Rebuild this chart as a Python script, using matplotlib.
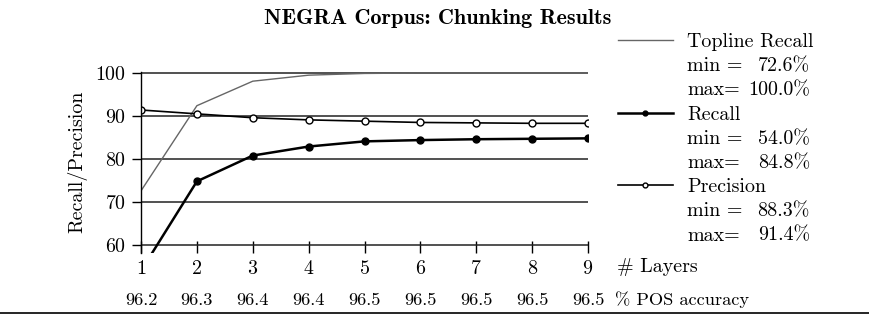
import matplotlib
matplotlib.use("Agg")
import matplotlib.pyplot as plt
from matplotlib.lines import Line2D
import matplotlib.transforms as mtransforms

layers = [1, 2, 3, 4, 5, 6, 7, 8, 9]
pos_accuracy = ['96.2', '96.3', '96.4', '96.4', '96.5', '96.5', '96.5', '96.5', '96.5']
topline_recall = [72.6, 92.4, 98.1, 99.5, 99.9, 100.0, 100.0, 100.0, 100.0]
recall = [54.0, 74.8, 80.8, 82.9, 84.1, 84.4, 84.6, 84.7, 84.8]
precision = [91.4, 90.5, 89.6, 89.1, 88.8, 88.5, 88.4, 88.3, 88.3]
yticks = [60, 70, 80, 90, 100]

plt.rcParams['font.family'] = ['cmr10', 'DejaVu Serif']
plt.rcParams['axes.formatter.use_mathtext'] = True
FS = 14.4

fig = plt.figure(figsize=(8.7, 3.16), dpi=100)
ax = fig.add_axes([0.1621, 0.2003, 0.5138, 0.5727])

l_top, = ax.plot(layers, topline_recall, color='#666666', lw=1.0, label='Topline Recall')
l_rec, = ax.plot(layers, recall, color='black', lw=1.8, marker='o', ms=5, label='Recall')
l_prec, = ax.plot(layers, precision, color='black', lw=1.2, marker='o', ms=5,
                  mfc='white', mec='black', mew=1.0, label='Precision')

ax.set_xlim(1, 9)
ax.set_ylim(58.2, 100.3)
ax.set_yticks(yticks)
ax.set_xticks(layers)
ax.yaxis.grid(True, color='#222222', lw=1.1)
ax.set_axisbelow(True)
for s in ['top', 'right', 'bottom']:
    ax.spines[s].set_visible(False)
ax.spines['left'].set_linewidth(1.0)
ax.tick_params(axis='y', direction='out', length=6.5, width=1.0, pad=4, labelsize=FS)
ax.tick_params(axis='x', direction='in', length=9, width=1.0, pad=5, labelsize=FS)
ax.set_ylabel('Recall/Precision', fontsize=FS)
ax.yaxis.set_label_coords(-0.121, 0.5)

trans = mtransforms.blended_transform_factory(ax.transData, ax.transAxes)
for x, p in zip(layers, pos_accuracy):
    ax.text(x, -0.261, p, transform=trans, ha='center', va='center', fontsize=FS * 0.92)

fig.text(617 / 870, 1 - 267 / 316, '# Layers', ha='left', va='center', fontsize=FS)
fig.text(615 / 870, 1 - 300 / 316, '% POS accuracy', ha='left', va='center', fontsize=FS * 0.92)

fig.text(438 / 870, 1 - 18 / 316, 'NEGRA Corpus: Chunking Results', ha='center', va='center',
         fontsize=16, family=['cmb10', 'DejaVu Serif'])

blank = Line2D([], [], linestyle='none')
series = [topline_recall, recall, precision]
handles = [l_top, blank, blank, l_rec, blank, blank, l_prec, blank, blank]
labels = ['Topline Recall', 'min =', 'max=', 'Recall', 'min =', 'max=', 'Precision', 'min =', 'max=']
leg = fig.legend(handles, labels, loc='upper left', bbox_to_anchor=(618 / 870, 1 - 33 / 316),
                 frameon=False, fontsize=FS, handlelength=2.75, handletextpad=0.7,
                 labelspacing=0.31, borderaxespad=0, borderpad=0, markerscale=0.7)

fig.canvas.draw()
r = fig.canvas.get_renderer()
texts = leg.get_texts()
for i, vals in enumerate(series):
    for j, v in zip([1, 2], [min(vals), max(vals)]):
        bb = texts[3 * i + j].get_window_extent(r)
        yc = (bb.y0 + bb.y1) / 2 / fig.bbox.height
        fig.text(810 / 870, yc, f'{v:.1f}%', ha='right', va='center', fontsize=FS)

fig.add_artist(Line2D([0, 1], [1 - 313 / 316, 1 - 313 / 316], color='black', lw=1.2,
                      transform=fig.transFigure))

fig.savefig('out.png', dpi=100)
